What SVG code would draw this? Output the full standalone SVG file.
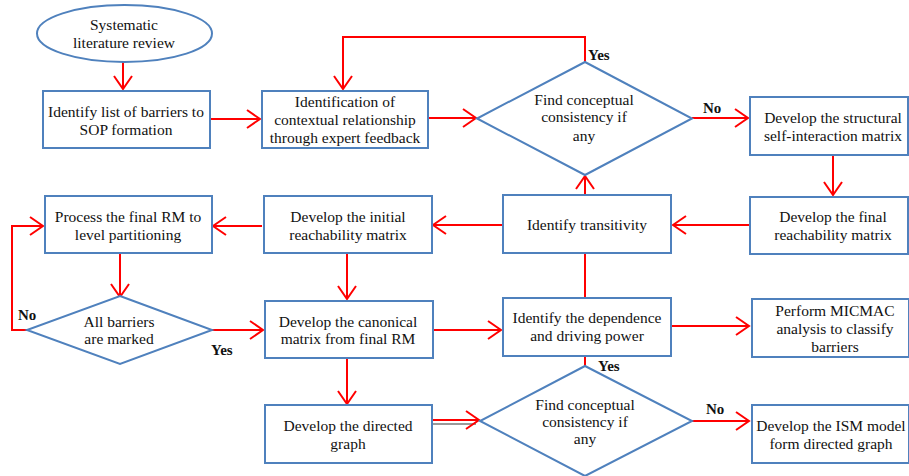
<svg xmlns="http://www.w3.org/2000/svg" width="909" height="476" viewBox="0 0 909 476">
<defs>
<marker id="ah" markerWidth="16" markerHeight="20" refX="14" refY="10" orient="auto" markerUnits="userSpaceOnUse">
<path d="M1,1 L14,10 L1,19" fill="none" stroke="#ff0000" stroke-width="2"/>
</marker>
<style>
.box{fill:#fff;stroke:#4f81bd;stroke-width:2}
.t{font-family:"Liberation Serif","Times New Roman",serif;font-size:15.5px;fill:#111;text-anchor:middle}
.lb{font-family:"Liberation Serif","Times New Roman",serif;font-size:15px;font-weight:bold;fill:#111}
.c{fill:none;stroke:#ff0000;stroke-width:2}
.a{marker-end:url(#ah)}
</style>
</defs>
<rect width="909" height="476" fill="#fff"/>
<g id="connectors">
<path class="c a" d="M123,62 V89"/>
<path class="c a" d="M210,119 H260"/>
<path class="c a" d="M585,62 V37 H343 V89"/>
<path class="c a" d="M428,118 H476"/>
<path class="c a" d="M692,118 H748"/>
<path class="c a" d="M833,155 V195"/>
<path class="c a" d="M750,225 H673"/>
<path class="c a" d="M585,195 V176"/>
<path class="c" d="M585,298 V253"/>
<path class="c a" d="M503,225 H433"/>
<path class="c a" d="M262,226 H213"/>
<path class="c a" d="M120,253 V297"/>
<path class="c a" d="M27,330 H12 V226 H43"/>
<path class="c a" d="M212,330 H263"/>
<path class="c a" d="M347,253 V299"/>
<path class="c a" d="M433,330 H501"/>
<path class="c a" d="M671,326 H749"/>
<path class="c a" d="M347,358 V404"/>
<path class="c" d="M585,356 V366"/>
<path d="M432,424 H476" fill="none" stroke="#999" stroke-width="2"/>
<path class="c a" d="M432,420 H479"/>
<path class="c a" d="M692,421 H749"/>
</g>
<g id="n_slr">
<ellipse cx="124.5" cy="33.5" rx="87.5" ry="28.5" class="box"/>
<text class="t" x="124" y="30">Systematic</text>
<text class="t" x="124" y="48">literature review</text>
</g>
<g id="n_barriers">
<rect x="43" y="91" width="167" height="57" class="box"/>
<text class="t" x="126" y="117">Identify list of barriers to</text>
<text class="t" x="126" y="135">SOP formation</text>
</g>
<g id="n_context">
<rect x="262" y="91" width="166" height="57" class="box"/>
<text class="t" x="345" y="107">Identification of</text>
<text class="t" x="345" y="125">contextual relationship</text>
<text class="t" x="345" y="143">through expert feedback</text>
</g>
<g id="n_consist1">
<polygon points="585,62 692,118.5 585,175 477,118.5" class="box"/>
<text class="t" x="584" y="105">Find conceptual</text>
<text class="t" x="584" y="122">consistency if</text>
<text class="t" x="584" y="141">any</text>
</g>
<g id="n_ssim">
<rect x="750" y="97" width="158" height="58" class="box"/>
<text class="t" x="833" y="123">Develop the structural</text>
<text class="t" x="833" y="141">self-interaction matrix</text>
</g>
<g id="n_finalrm">
<rect x="750" y="197" width="158" height="57" class="box"/>
<text class="t" x="833" y="222">Develop the final</text>
<text class="t" x="833" y="240">reachability matrix</text>
</g>
<g id="n_trans">
<rect x="503" y="195" width="168" height="58" class="box"/>
<text class="t" x="587" y="230">Identify transitivity</text>
</g>
<g id="n_initrm">
<rect x="264" y="196" width="168" height="57" class="box"/>
<text class="t" x="348" y="222">Develop the initial</text>
<text class="t" x="348" y="240">reachability matrix</text>
</g>
<g id="n_process">
<rect x="45" y="196" width="167" height="57" class="box"/>
<text class="t" x="128" y="222">Process the final RM to</text>
<text class="t" x="128" y="240">level partitioning</text>
</g>
<g id="n_marked">
<polygon points="120,296 212,330 120,364 27,330" class="box"/>
<text class="t" x="119" y="327">All barriers</text>
<text class="t" x="119" y="344">are marked</text>
</g>
<g id="n_canon">
<rect x="265" y="301" width="168" height="57" class="box"/>
<text class="t" x="348" y="327">Develop the canonical</text>
<text class="t" x="348" y="344">matrix from final RM</text>
</g>
<g id="n_depend">
<rect x="503" y="298" width="168" height="58" class="box"/>
<text class="t" x="587" y="323">Identify the dependence</text>
<text class="t" x="587" y="341">and driving power</text>
</g>
<g id="n_micmac">
<rect x="752" y="299" width="157" height="58" class="box"/>
<text class="t" x="835" y="316">Perform MICMAC</text>
<text class="t" x="835" y="334">analysis to classify</text>
<text class="t" x="835" y="352">barriers</text>
</g>
<g id="n_digraph">
<rect x="265" y="405" width="167" height="58" class="box"/>
<text class="t" x="348" y="431">Develop the directed</text>
<text class="t" x="348" y="449">graph</text>
</g>
<g id="n_consist2">
<polygon points="585,366 692,421 585,476 480,421" class="box"/>
<text class="t" x="585" y="410">Find conceptual</text>
<text class="t" x="585" y="427">consistency if</text>
<text class="t" x="585" y="444">any</text>
</g>
<g id="n_ism">
<rect x="752" y="405" width="157" height="58" class="box"/>
<text class="t" x="831" y="431">Develop the ISM model</text>
<text class="t" x="831" y="449">form directed graph</text>
</g>
<g id="labels">
<text class="lb" x="588" y="60">Yes</text>
<text class="lb" x="703" y="113">No</text>
<text class="lb" x="18" y="320">No</text>
<text class="lb" x="211" y="355">Yes</text>
<text class="lb" x="598" y="371">Yes</text>
<text class="lb" x="706" y="414">No</text>
</g>
</svg>
